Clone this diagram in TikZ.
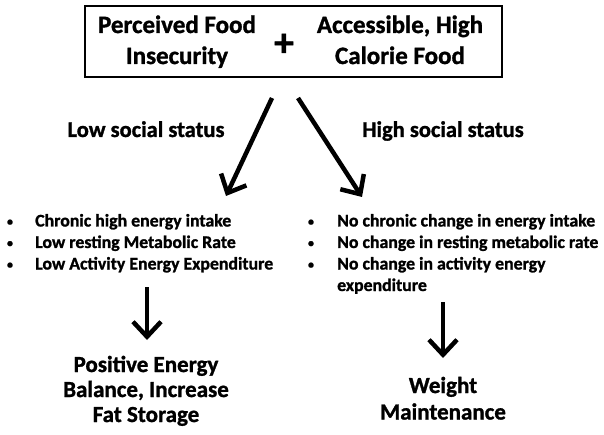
\documentclass[tikz,border=0pt]{standalone}
\usepackage{fontspec}
\setmainfont{Carlito}[BoldFeatures={FakeBold=1.2}]
\usetikzlibrary{arrows.meta}
\begin{document}
\begin{tikzpicture}[x=1pt,y=-1pt,
  every node/.style={font=\bfseries, inner sep=0pt},
  big/.style={font=\fontsize{25}{31}\selectfont\bfseries, align=center, anchor=base},
  lab/.style={font=\fontsize{22.5}{26}\selectfont\bfseries, anchor=base},
  item/.style={font=\fontsize{17.8}{21.5}\selectfont\bfseries, anchor=base west},
  dot/.style={font=\fontsize{12}{12}\selectfont\bfseries, anchor=base},
  res/.style={font=\fontsize{23}{25}\selectfont\bfseries, align=center, anchor=base},
  fat/.style={line width=4.5pt, -{Straight Barb[length=15pt,width=28pt,line width=4.5pt]}}
]
\useasboundingbox (0,0) rectangle (604,435);
\node[draw, line width=1.2pt, minimum width=417pt, minimum height=71pt] (box) at (293.5,41.5) {};
\node[big] (pfi) at (177,64) {Perceived Food\\Insecurity};
\node[font=\fontsize{40}{40}\selectfont\bfseries] (plus) at (284,45) {+};
\node[big] (ahc) at (400,64) {Accessible, High\\Calorie Food};
\coordinate (l0) at (272,98);
\coordinate (l1) at (226,196);
\coordinate (r0) at (298,98);
\coordinate (r1) at (362,197);
\draw[fat] (l0) -- (l1);
\draw[fat] (r0) -- (r1);
\node[lab] (low) at (146,137) {Low social status};
\node[lab] (high) at (443,137) {High social status};
\node[dot] (p1) at (10,225.5) {•};
\node[dot] (p2) at (10,247) {•};
\node[dot] (p3) at (10,268.5) {•};
\node[item] (b1) at (35,226.5) {Chronic high energy intake};
\node[item] (b2) at (35,248) {Low resting Metabolic Rate};
\node[item] (b3) at (35,269.5) {Low Activity Energy Expenditure};
\node[dot] (q1) at (311,225.5) {•};
\node[dot] (q2) at (311,247) {•};
\node[dot] (q3) at (311,268.5) {•};
\node[item] (c1) at (337,226.5) {No chronic change in energy intake};
\node[item] (c2) at (337,248) {No change in resting metabolic rate};
\node[item] (c3) at (337,269.5) {No change in activity energy};
\node[item] (c4) at (337,291) {expenditure};
\coordinate (d0) at (147,287);
\coordinate (d1) at (147,340);
\coordinate (e0) at (443,302);
\coordinate (e1) at (443,358);
\draw[fat] (d0) -- (d1);
\draw[fat] (e0) -- (e1);
\node[res] (pos) at (146,422) {Positive Energy\\Balance, Increase\\Fat Storage};
\node[res, font=\fontsize{23}{26.5}\selectfont\bfseries] (wm) at (443,419.5) {Weight\\Maintenance};
\end{tikzpicture}
\end{document}
